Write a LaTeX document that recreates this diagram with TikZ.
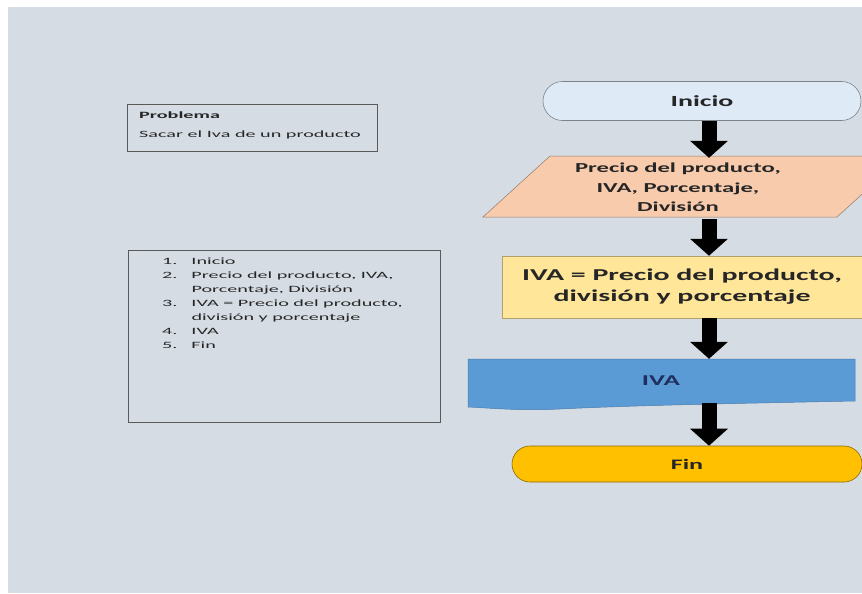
\documentclass[tikz,border=0pt]{standalone}
\usepackage{fontspec}
\newfontfamily\notafont[FakeStretch=2.1]{Carlito}
\newfontfamily\flujofont[FakeStretch=1.8]{Carlito}
\usetikzlibrary{arrows.meta, shapes.misc}
\definecolor{fondo}{HTML}{D5DCE4}
\definecolor{inicioazul}{HTML}{DEEBF7}
\definecolor{durazno}{HTML}{F8CBAD}
\definecolor{amarillo}{HTML}{FFE699}
\definecolor{azul}{HTML}{5B9BD5}
\definecolor{oro}{HTML}{FFC000}
\definecolor{marino}{HTML}{1F2F5F}

\begin{document}
\begin{tikzpicture}[x=1pt, y=-1pt,
	flecha/.style={line width=15pt, -{Triangle[width=37pt, length=17pt]}},
	caja/.style={draw=black!65, line width=0.8pt},
	terminal/.style={rounded rectangle, fill=#1, draw=#1!55!black, line width=0.6pt},
	letra/.style args={#1/#2}{text=black!85, inner sep=0pt, font=\flujofont\bfseries\fontsize{#1}{#2}\selectfont}]
	\useasboundingbox (0,0) rectangle (862,594);
	\fill [fondo] (8,7) rectangle (862,593);
	\clip (8,7) rectangle (862,593);

	% recuadros de la izquierda
	\draw [caja] (127,104) rectangle (377,151);
	\node [anchor=base west, inner sep=0pt, text=black!85,
		font=\notafont\fontsize{9.6}{19}\selectfont] (problema) at (139,118.5)
		{\begin{tabular}[t]{@{}l@{}}
			\textbf{Problema}\\
			Sacar el Iva de un producto
		\end{tabular}};
	\draw [caja] (128,250) rectangle (440,422);
	\node [anchor=base west, inner sep=0pt, text=black!85,
		font=\notafont\fontsize{9.6}{14}\selectfont] (pasos) at (162,264)
		{\begin{tabular}[t]{@{}r@{\hspace{14pt}}l@{}}
			1. & Inicio\\
			2. & Precio del producto, IVA,\\
			   & Porcentaje, División\\
			3. & IVA = Precio del producto,\\
			   & división y porcentaje\\
			4. & IVA\\
			5. & Fin
		\end{tabular}};

	% diagrama de flujo
	\coordinate (eje) at (709,0);
	\node [terminal=inicioazul, minimum width=318pt, minimum height=39pt, letra=15.5/18] (inicio) at (702,101) {Inicio};
	\filldraw [fill=durazno, draw=durazno!60!black, line width=0.5pt] (483,217) -- (550,156) -- (904,156) -- (837,217) -- cycle;
	\node [letra=13.7/19.5, minimum height=61pt] (datos) at (678,188.5)
		{\begin{tabular}{@{}c@{}}
			Precio del producto,\\
			IVA, Porcentaje,\\
			División
		\end{tabular}};
	\node [draw=amarillo!70!black, line width=0.5pt, fill=amarillo, minimum width=360pt, minimum height=62pt,
		letra=16.6/21] (proceso) at (682,287)
		{\begin{tabular}{@{}c@{}}
			IVA = Precio del producto,\\
			división y porcentaje
		\end{tabular}};
	\filldraw [fill=azul, draw=azul!80!black, line width=0.5pt] (468,359) -- (855,359) -- (855,401)
		.. controls (760,403) and (640,405) .. (560,409)
		.. controls (520,411) and (490,408) .. (468,407) -- cycle;
	\node [letra=15/18, text=marino, minimum height=44pt] (documento) at (661,381) {IVA};
	\node [terminal=oro, minimum width=350pt, minimum height=36pt, letra=14.5/18] (fin) at (687,464) {Fin};

	\draw [flecha] (inicio.south -| eje) -- (datos.north -| eje);
	\draw [flecha] (datos.south -| eje) -- (proceso.north -| eje);
	\draw [flecha] (proceso.south -| eje) -- (documento.north -| eje);
	\draw [flecha] (documento.south -| eje) -- (fin.north -| eje);
%	\draw [flecha] (fin.south -| eje) -- ++(0,30);
\end{tikzpicture}
\end{document}
